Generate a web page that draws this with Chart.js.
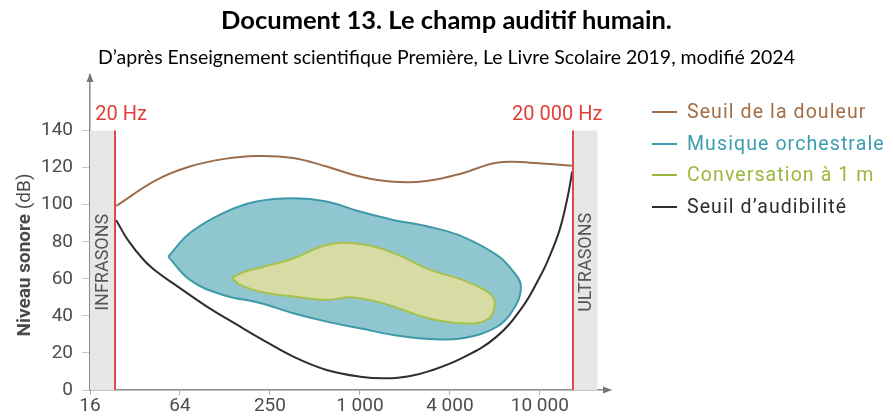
<!DOCTYPE html>
<html>
<head>
<meta charset="utf-8">
<script src="https://cdn.jsdelivr.net/npm/chart.js@4.4.1/dist/chart.umd.min.js"></script>
<style>
  html, body { margin: 0; padding: 0; background: #fff; }
  #wrap { position: relative; width: 893px; height: 420px; overflow: hidden; }
  #c { position: absolute; left: 0; top: 0; }
  .title { position: absolute; left: 0; width: 893px; text-align: center; color: #000; font-family: Lato, sans-serif; white-space: nowrap; }
  #t1 { top: 4px; font-size: 25.5px; font-weight: bold; }
  #t2 { top: 45px; font-size: 19.5px; }
  #legend { position: absolute; left: 652px; top: 97px; font-family: Roboto, sans-serif; font-size: 19.5px; letter-spacing: 1.1px; }
  #legend div { height: 31.7px; line-height: 30px; white-space: nowrap; }
  #legend span.sw { display: inline-block; width: 25px; height: 2px; vertical-align: middle; margin-right: 10px; position: relative; top: -1px; }
</style>
</head>
<body>
<div id="wrap">
  <canvas id="c" width="893" height="420"></canvas>
  <div class="title" id="t1">Document 13. Le champ auditif humain.</div>
  <div class="title" id="t2">D’après Enseignement scientifique Première, Le Livre Scolaire 2019, modifié 2024</div>
  <div id="legend"></div>
</div>
<script>
// x positions are in "tick steps": 0 = 16 Hz, 1 = 64 Hz, ... 5 = 10 000 Hz
const xTickLabels = ['16', '64', '250', '1 000', '4 000', '10 000'];
const yTicks = [0, 20, 40, 60, 80, 100, 120, 140];
const xMax = 5.78;
const yMax = 170;
const limitLow = 0.28;   // 20 Hz
const limitHigh = 5.37;  // 20 000 Hz
const bandEnd = 5.64;

// Seuil de la douleur
const painPos = [0.29, 0.74, 1.11, 1.48, 1.85, 2.26, 2.63, 3.0, 3.37, 3.74, 4.14, 4.52, 4.89, 5.36];
const painDb  = [99.3, 113.4, 120.6, 124.6, 126.3, 125.2, 120.6, 115.2, 112.4, 112.8, 117, 122.7, 122.7, 121];

// Seuil d'audibilité
const hearPos = [0.29, 0.42, 0.6, 0.75, 0.92, 1.3, 1.67, 1.89, 2.26, 2.63, 3.0, 3.3, 3.56, 3.78, 4.14, 4.52, 4.81, 5.0, 5.09, 5.22, 5.31, 5.36];
const hearDb  = [91.8, 81, 70, 63.5, 57.7, 45, 34.2, 27.9, 18, 10.8, 7.2, 6.3, 7.6, 10.3, 17.3, 28.8, 45, 61, 70, 86.4, 104.4, 118];

// Musique orchestrale (closed outline)
const musicPos = [0.87, 1.11, 1.48, 1.85, 2.26, 2.63, 3.0, 3.37, 3.78, 4.14, 4.52, 4.69, 4.79, 4.7, 4.52, 4.14, 3.78, 3.37, 3.0, 2.63, 2.26, 1.89, 1.48, 1.11, 0.87];
const musicDb  = [72, 84.7, 95.5, 101.7, 103.5, 101.7, 96.3, 91.8, 88, 82.8, 72.9, 64.8, 55.8, 43, 34, 27.9, 27.5, 29.7, 33.3, 36.9, 41.4, 47, 51.3, 59.4, 72];

// Conversation à 1 m (closed outline)
const speechPos = [1.58, 1.7, 1.89, 2.26, 2.63, 3.0, 3.37, 3.78, 4.14, 4.44, 4.5, 4.41, 4.14, 3.78, 3.48, 3.19, 2.89, 2.63, 2.26, 1.89, 1.66, 1.58];
const speechDb  = [60.5, 63.5, 66, 71, 78.3, 78.8, 74, 64.8, 59.4, 52.2, 45.9, 37.8, 36, 38.5, 43.2, 47.7, 50, 48.6, 50.4, 53, 57, 60.5];

const legendItems = [
    { label: 'Seuil de la douleur', color: '#a36e45' },
    { label: 'Musique orchestrale', color: '#3a9eb0' },
    { label: 'Conversation à 1 m', color: '#9ab83c' },
    { label: 'Seuil d’audibilité', color: '#2e2e2e' },
];

const toPoints = (xs, ys) => xs.map((x, i) => ({ x: x, y: ys[i] }));

document.getElementById('legend').innerHTML = legendItems.map(it =>
    '<div style="color:' + it.color + '"><span class="sw" style="background:' + it.color + '"></span>' + it.label + '</div>'
).join('');

const fontFamily = 'Roboto, sans-serif';
const tickFont = { family: fontFamily, size: 19 };

// bands, red limits, labels, arrows, y title
const decor = {
    id: 'decor',
    beforeDatasetsDraw(chart) {
        const { ctx, scales: { x, y } } = chart;
        const top = y.getPixelForValue(140), bottom = y.getPixelForValue(0);
        ctx.save();
        ctx.fillStyle = '#e7e7e7';
        ctx.fillRect(x.getPixelForValue(0), top, x.getPixelForValue(limitLow) - x.getPixelForValue(0), bottom - top);
        ctx.fillRect(x.getPixelForValue(limitHigh), top, x.getPixelForValue(bandEnd) - x.getPixelForValue(limitHigh), bottom - top);

        ctx.fillStyle = '#555';
        ctx.font = '18px ' + fontFamily;
        ctx.textAlign = 'center';
        ctx.textBaseline = 'middle';
        const midY = (y.getPixelForValue(40) + y.getPixelForValue(100)) / 2 + 2;
        [[(x.getPixelForValue(0) + x.getPixelForValue(limitLow)) / 2 + 1, 'INFRASONS'],
         [(x.getPixelForValue(limitHigh) + x.getPixelForValue(bandEnd)) / 2 + 1, 'ULTRASONS']].forEach(([px, txt]) => {
            ctx.save();
            ctx.translate(px, midY);
            ctx.rotate(-Math.PI / 2);
            ctx.fillText(txt, 0, 0);
            ctx.restore();
        });
        ctx.restore();
    },
    afterDatasetsDraw(chart) {
        const { ctx, scales: { x, y } } = chart;
        const top = y.getPixelForValue(140), bottom = y.getPixelForValue(0);
        ctx.save();
        ctx.strokeStyle = '#df4b43';
        ctx.lineWidth = 2;
        [limitLow, limitHigh].forEach(v => {
            const px = Math.round(x.getPixelForValue(v));
            ctx.beginPath();
            ctx.moveTo(px, top);
            ctx.lineTo(px, bottom);
            ctx.stroke();
        });
        ctx.fillStyle = '#df3f36';
        ctx.font = '20px ' + fontFamily;
        ctx.textBaseline = 'middle';
        ctx.textAlign = 'left';
        ctx.fillText('20 Hz', x.getPixelForValue(limitLow) - 20, top - 16);
        ctx.fillText('20 000 Hz', x.getPixelForValue(limitHigh) - 61, top - 16);
        ctx.restore();
    },
    afterDraw(chart) {
        const { ctx, chartArea: a } = chart;
        ctx.save();
        ctx.fillStyle = '#777';
        // arrow heads
        ctx.beginPath();
        ctx.moveTo(a.left, a.top - 2);
        ctx.lineTo(a.left - 3.5, a.top + 7);
        ctx.lineTo(a.left + 3.5, a.top + 7);
        ctx.fill();
        ctx.beginPath();
        ctx.moveTo(a.right + 2, a.bottom);
        ctx.lineTo(a.right - 7, a.bottom - 3.5);
        ctx.lineTo(a.right - 7, a.bottom + 3.5);
        ctx.fill();

        // y title, "Niveau sonore" bold + "(dB)" regular
        const bold = 'bold 19px ' + fontFamily;
        const reg = '19px ' + fontFamily;
        ctx.font = bold;
        const w1 = ctx.measureText('Niveau sonore ').width;
        ctx.font = reg;
        const w2 = ctx.measureText('(dB)').width;
        ctx.translate(25, 255);
        ctx.rotate(-Math.PI / 2);
        ctx.textBaseline = 'middle';
        ctx.textAlign = 'left';
        ctx.fillStyle = '#4a4a4a';
        ctx.font = bold;
        ctx.fillText('Niveau sonore ', -(w1 + w2) / 2, 0);
        ctx.font = reg;
        ctx.fillText('(dB)', -(w1 + w2) / 2 + w1, 0);
        ctx.restore();
    }
};

new Chart(document.getElementById('c'), {
    type: 'line',
    data: {
        datasets: [
            {
                label: 'Conversation à 1 m',
                data: toPoints(speechPos, speechDb),
                borderColor: '#a8c14a',
                backgroundColor: '#d6dca4',
                borderWidth: 2,
                fill: 'shape',
                tension: 0.4,
                pointRadius: 0,
            },
            {
                label: 'Musique orchestrale',
                data: toPoints(musicPos, musicDb),
                borderColor: '#3e9aa9',
                backgroundColor: '#90c6cf',
                borderWidth: 2,
                fill: 'shape',
                tension: 0.4,
                pointRadius: 0,
            },
            {
                label: 'Seuil de la douleur',
                data: toPoints(painPos, painDb),
                borderColor: '#9c6e4c',
                borderWidth: 2,
                fill: false,
                tension: 0.4,
                pointRadius: 0,
            },
            {
                label: 'Seuil d’audibilité',
                data: toPoints(hearPos, hearDb),
                borderColor: '#2e2e2e',
                borderWidth: 2,
                fill: false,
                tension: 0.4,
                pointRadius: 0,
            },
        ],
    },
    options: {
        responsive: false,
        animation: false,
        layout: { padding: { left: 0, right: 283, top: 75, bottom: 0 } },
        plugins: {
            legend: { display: false },
            tooltip: { enabled: false },
        },
        scales: {
            x: {
                type: 'linear',
                min: 0,
                max: xMax,
                afterBuildTicks: s => { s.ticks = xTickLabels.map((_, i) => ({ value: i })); },
                afterFit: s => { s.height = 30; },
                ticks: {
                    callback: v => xTickLabels[v],
                    font: tickFont,
                    color: '#4d4d4d',
                    padding: 0,
                    maxRotation: 0,
                    autoSkip: false,
                },
                grid: { drawOnChartArea: false, tickLength: 5, color: '#b0b0b0' },
                border: { color: '#8a8a8a', width: 1.5 },
            },
            y: {
                min: 0,
                max: yMax,
                afterBuildTicks: s => { s.ticks = yTicks.map(v => ({ value: v })); },
                afterFit: s => { s.width = 90; },
                ticks: {
                    font: tickFont,
                    color: '#4d4d4d',
                    padding: 9,
                    autoSkip: false,
                },
                grid: { drawOnChartArea: false, tickLength: 8, color: '#c8c8c8' },
                border: { color: '#8a8a8a', width: 1.5 },
            },
        },
    },
    plugins: [decor],
});
</script>
</body>
</html>
